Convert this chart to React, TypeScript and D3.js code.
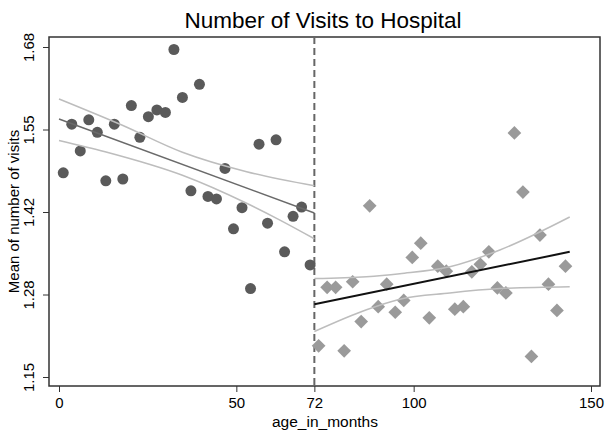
import React, { useRef, useEffect } from "react";
import * as d3 from "d3";

// binned means, age 0-72 months (before cutoff)
const leftAge = [1.2, 3.6, 6, 8.4, 10.8, 13.2, 15.6, 18, 20.4, 22.8, 25.2, 27.6, 30, 32.4, 34.8, 37.2, 39.6, 42, 44.4, 46.8, 49.2, 51.6, 54, 56.4, 58.8, 61.2, 63.6, 66, 68.4, 70.8];
const leftVisits = [1.478, 1.556, 1.513, 1.563, 1.543, 1.465, 1.556, 1.468, 1.586, 1.535, 1.568, 1.579, 1.575, 1.676, 1.599, 1.449, 1.62, 1.44, 1.436, 1.485, 1.388, 1.422, 1.292, 1.524, 1.397, 1.531, 1.351, 1.408, 1.423, 1.33];

// binned means, age 72-144 months (after cutoff)
const rightAge = [73.2, 75.6, 78, 80.4, 82.8, 85.2, 87.6, 90, 92.4, 94.8, 97.2, 99.6, 102, 104.4, 106.8, 109.2, 111.6, 114, 116.4, 118.8, 121.2, 123.6, 126, 128.4, 130.8, 133.2, 135.6, 138, 140.4, 142.8];
const rightVisits = [1.2, 1.294, 1.294, 1.192, 1.303, 1.239, 1.425, 1.263, 1.299, 1.254, 1.273, 1.342, 1.365, 1.245, 1.328, 1.32, 1.259, 1.263, 1.319, 1.331, 1.351, 1.293, 1.285, 1.542, 1.447, 1.183, 1.378, 1.299, 1.257, 1.328];

// linear fits and 95% CI bands
const leftFitAge = [0, 72];
const leftFit = [1.5644, 1.4135];
const leftCiAge = [0, 17.7, 34.8, 52.9, 72];
const leftCiUpper = [1.5965, 1.5547, 1.511, 1.4797, 1.457];
const leftCiLowerAge = [0, 13, 34.8, 52.9, 62.3, 72];
const leftCiLower = [1.53, 1.5118, 1.474, 1.429, 1.402, 1.372];

const rightFitAge = [72, 144];
const rightFit = [1.267, 1.351];
const rightCiAge = [72, 86.7, 96.1, 110.2, 124.3, 144];
const rightCiUpper = [1.308, 1.311, 1.316, 1.327, 1.354, 1.407];
const rightCiLower = [1.223, 1.258, 1.275, 1.285, 1.292, 1.295];

const cutoff = 72;
const xTicks = [0, 50, 72, 100, 150];
const yTicks = [1.15, 1.2825, 1.415, 1.5475, 1.68];
const yTickLabels = ["1.15", "1.28", "1.42", "1.55", "1.68"];

const W = 605;
const H = 433;
const FONT = "'Liberation Sans', Arial, sans-serif";

export default function App() {
  const svgRef = useRef<SVGSVGElement>(null);

  useEffect(() => {
    const svg = d3.select(svgRef.current);
    svg.selectAll("*").remove();

    const frame = { left: 49, right: 600, top: 37, bottom: 386 };
    const x = d3.scaleLinear().domain([0, 150]).range([59, 591]);
    const y = d3.scaleLinear().domain([1.15, 1.68]).range([377, 47]);

    svg.append("rect").attr("width", W).attr("height", H).attr("fill", "#fff");

    // title
    svg
      .append("text")
      .attr("x", 323)
      .attr("y", 28)
      .attr("text-anchor", "middle")
      .attr("font-family", FONT)
      .attr("font-size", 22.5)
      .text("Number of Visits to Hospital");

    // axes
    const xAxis = svg
      .append("g")
      .attr("transform", `translate(0,${frame.bottom})`)
      .call(d3.axisBottom(x).tickValues(xTicks).tickSize(6).tickPadding(5).tickFormat(d3.format("d")));
    xAxis.select(".domain").remove();
    xAxis.selectAll("text").attr("font-family", FONT).attr("font-size", 15).attr("fill", "#000");
    xAxis.selectAll("line").attr("stroke", "#333");

    const yAxis = svg
      .append("g")
      .attr("transform", `translate(${frame.left},0)`)
      .call(
        d3
          .axisLeft(y)
          .tickValues(yTicks)
          .tickSize(6)
          .tickFormat((_d, i) => yTickLabels[i])
      );
    yAxis.select(".domain").remove();
    yAxis.selectAll("line").attr("stroke", "#333");
    yAxis
      .selectAll("text")
      .attr("font-family", FONT)
      .attr("font-size", 15)
      .attr("fill", "#000")
      .attr("x", null)
      .attr("dy", null)
      .attr("text-anchor", "middle")
      .attr("transform", "translate(-15,0) rotate(-90)");

    // frame
    svg
      .append("rect")
      .attr("x", frame.left)
      .attr("y", frame.top)
      .attr("width", frame.right - frame.left)
      .attr("height", frame.bottom - frame.top)
      .attr("fill", "none")
      .attr("stroke", "#333")
      .attr("stroke-width", 1.5);

    // axis titles
    svg
      .append("text")
      .attr("x", 325)
      .attr("y", 427)
      .attr("text-anchor", "middle")
      .attr("font-family", FONT)
      .attr("font-size", 15.5)
      .text("age_in_months");

    svg
      .append("text")
      .attr("transform", `translate(19,${(frame.top + frame.bottom) / 2}) rotate(-90)`)
      .attr("text-anchor", "middle")
      .attr("font-family", FONT)
      .attr("font-size", 15)
      .text("Mean of number of visits");

    // cutoff line
    svg
      .append("line")
      .attr("x1", x(cutoff))
      .attr("x2", x(cutoff))
      .attr("y1", frame.top)
      .attr("y2", frame.bottom)
      .attr("stroke", "#666")
      .attr("stroke-width", 2)
      .attr("stroke-dasharray", "7,4");

    const curve = (xs: number[], ys: number[]) =>
      d3
        .line<number>()
        .x((_d, i) => x(xs[i]))
        .y((d) => y(d))
        .curve(d3.curveMonotoneX)(ys);

    const drawLine = (xs: number[], ys: number[], color: string, width: number) =>
      svg
        .append("path")
        .attr("d", curve(xs, ys))
        .attr("fill", "none")
        .attr("stroke", color)
        .attr("stroke-width", width);

    // points
    svg
      .append("g")
      .selectAll("circle")
      .data(leftVisits)
      .join("circle")
      .attr("cx", (_d, i) => x(leftAge[i]))
      .attr("cy", (d) => y(d))
      .attr("r", 5.5)
      .attr("fill", "#5a5a5a");

    const diamond = d3.symbol().type(d3.symbolDiamond2).size(120);
    svg
      .append("g")
      .selectAll("path")
      .data(rightVisits)
      .join("path")
      .attr("d", diamond)
      .attr("transform", (d, i) => `translate(${x(rightAge[i])},${y(d)})`)
      .attr("fill", "#9a9a9a");

    // fits
    drawLine(leftCiAge, leftCiUpper, "#bdbdbd", 1.5);
    drawLine(leftCiLowerAge, leftCiLower, "#bdbdbd", 1.5);
    drawLine(leftFitAge, leftFit, "#6a6a6a", 1.5);
    drawLine(rightCiAge, rightCiUpper, "#bdbdbd", 1.5);
    drawLine(rightCiAge, rightCiLower, "#bdbdbd", 1.5);
    drawLine(rightFitAge, rightFit, "#111", 2);
  }, []);

  return (
    <svg
      ref={svgRef}
      width={W}
      height={H}
      style={{ position: "absolute", left: 0, top: 0 }}
    />
  );
}
